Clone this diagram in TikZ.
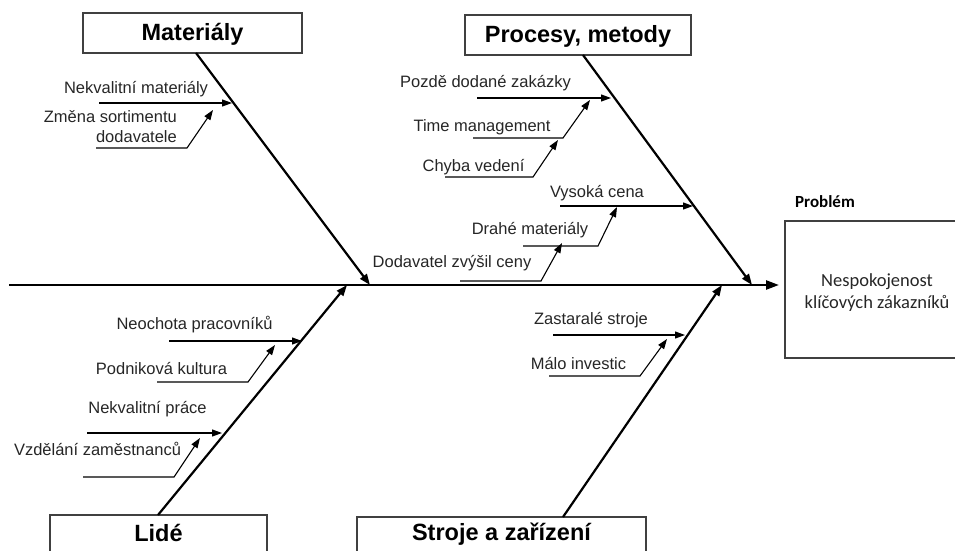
\documentclass[tikz,border=0pt]{standalone}
\usepackage{fontspec}
\setmainfont{Liberation Sans}
\newfontfamily\calibrifont{Carlito}
\usetikzlibrary{arrows.meta}
\begin{document}
\begin{tikzpicture}[x=1pt,y=-1pt,
  catbox/.style={draw=black!75,line width=1.4pt,fill=white},
  cattext/.style={font=\fontsize{23.5}{27}\selectfont\bfseries,anchor=base},
  causetext/.style={font=\fontsize{16.5}{19.5}\selectfont,text=black!85,anchor=base,inner sep=0pt},
  bone/.style={line width=2.2pt,-{Triangle[length=11pt,width=8pt]}},
  cause/.style={line width=1.1pt,-{Triangle[length=10pt,width=7pt]}},
  spine/.style={line width=2.4pt,-{Triangle[length=13pt,width=9pt]}}]
\useasboundingbox (0,0) rectangle (955,551);
\clip (0,0) rectangle (955,551);

% problem box
\draw[draw=black!75,line width=1.4pt] (785,221) rectangle (962,358);
\node[font=\calibrifont\fontsize{17}{20}\selectfont\bfseries,anchor=base] (probtitle) at (825,207) {Problém};
\node[font=\calibrifont\fontsize{18.5}{22}\selectfont,align=center,text=black!85] (problem) at (877,293) {Nespokojenost\\klíčových zákazníků};

% spine
\coordinate (spinestart) at (9,285);
\coordinate (spineend) at (779,285);
\draw[spine] (spinestart) -- (spineend);

% category boxes
\draw[catbox] (83,13) rectangle (302,53);
\node[cattext] (mat) at (192.5,41) {Materiály};
\draw[catbox] (465,15) rectangle (691,55);
\node[cattext] (proc) at (578,43) {Procesy, metody};
\draw[catbox] (50,515) rectangle (267,570);
\node[cattext] (lide) at (158.5,541) {Lidé};
\draw[catbox] (357,517) rectangle (646,570);
\node[cattext] (stroje) at (501.5,540) {Stroje a zařízení};

% main bones
\coordinate (matA) at (196,53);   \coordinate (matB) at (370,285);
\coordinate (procA) at (583,55);  \coordinate (procB) at (752,285);
\coordinate (lideA) at (158,515); \coordinate (lideB) at (347,285);
\coordinate (strA) at (563,517);  \coordinate (strB) at (722,285);
\draw[bone] (matA) -- (matB);
\draw[bone] (procA) -- (procB);
\draw[bone] (lideA) -- (lideB);
\draw[bone] (strA) -- (strB);

% Materiály causes
\node[causetext] (c1) at (136,93) {Nekvalitní materiály};
\draw[cause] (99,103) -- (232,103);
\node[causetext,align=right,anchor=base east] (c2) at (177,142) {Změna sortimentu\\dodavatele};
\draw[cause] (96,148) -- (187,148) -- (213,110);

% Procesy, metody causes
\node[causetext] (c3) at (485.5,88) {Pozdě dodané zakázky};
\draw[cause] (477,98) -- (611,98);
\node[causetext] (c4) at (482,131) {Time management};
\draw[cause] (473,138) -- (563,138) -- (590,100);
\node[causetext] (c5) at (473.5,171) {Chyba vedení};
\draw[cause] (445,177) -- (533,177) -- (558,140);
\node[causetext] (c6) at (597,197) {Vysoká cena};
\draw[cause] (560,206) -- (693,206);
\node[causetext] (c7) at (530,234) {Drahé materiály};
\draw[cause] (523,246) -- (598,246) -- (617,207);
\node[causetext] (c8) at (452,267) {Dodavatel zvýšil ceny};
\draw[cause] (460,281) -- (541,281) -- (562,243);

% Lidé causes
\node[causetext] (c9) at (194.5,329) {Neochota pracovníků};
\draw[cause] (169,341) -- (302,341);
\node[causetext] (c10) at (161.5,374) {Podniková kultura};
\draw[cause] (157,382) -- (248,382) -- (275,345);
\node[causetext] (c11) at (147.5,413) {Nekvalitní práce};
\draw[cause] (87,433) -- (222,433);
\node[causetext] (c12) at (97.5,455) {Vzdělání zaměstnanců};
\draw[cause] (83,477) -- (174,477) -- (200,438);

% Stroje a zařízení causes
\node[causetext] (c13) at (591,324) {Zastaralé stroje};
\draw[cause] (553,335) -- (685,335);
\node[causetext] (c14) at (578.5,369) {Málo investic};
\draw[cause] (549,376) -- (640,376) -- (667,339);
\end{tikzpicture}
\end{document}
